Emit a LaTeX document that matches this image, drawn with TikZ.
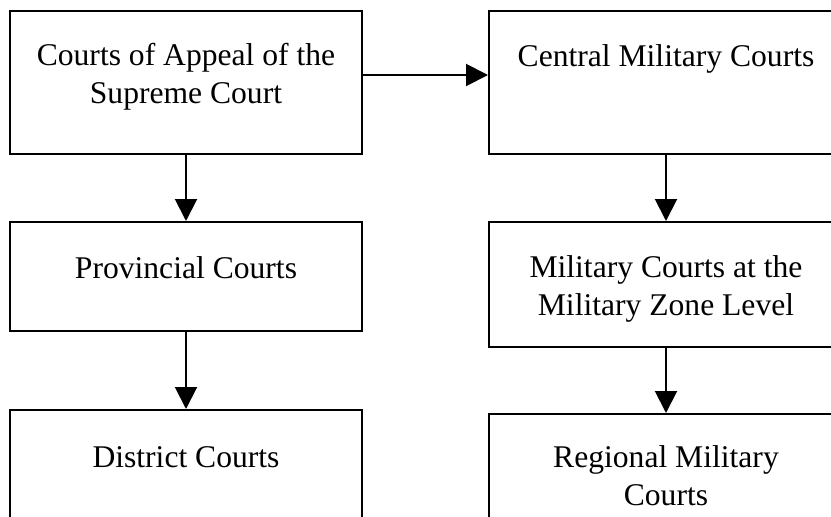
\documentclass[tikz,border=0pt]{standalone}
\usepackage{fontspec}
\setmainfont{Liberation Serif}
\usetikzlibrary{arrows.meta}
\begin{document}
\begin{tikzpicture}[x=1pt,y=-1pt,
  box/.style={draw=black,line width=2pt,rectangle,inner sep=0pt},
  lbl/.style={inner sep=0pt,anchor=base,align=center,
    font=\fontsize{31.6}{37.5}\selectfont},
  arr/.style={line width=2pt,-{Triangle[width=22pt,length=22pt]}}]
  \useasboundingbox (0,0) rectangle (831,517);
  \clip (0,0) rectangle (831,517);
  % ordinary court branch
  \node[box,minimum width=352pt,minimum height=143pt] (appeal) at (186,82.5) {};
  \node[box,minimum width=352pt,minimum height=109pt] (prov) at (186,276.5) {};
  \node[box,minimum width=352pt,minimum height=150pt] (dist) at (186,485) {};
  % military court branch
  \node[box,minimum width=354pt,minimum height=143pt] (central) at (666,82.5) {};
  \node[box,minimum width=354pt,minimum height=125pt] (zone) at (666,284.5) {};
  \node[box,minimum width=354pt,minimum height=146pt] (region) at (666,487) {};
  % labels (base anchor sits on the last line of each label)
  \node[lbl] (tappeal) at (186,103) {Courts of Appeal of the\\Supreme Court};
  \node[lbl] (tprov) at (186,278) {Provincial Courts};
  \node[lbl] (tdist) at (186,467) {District Courts};
  \node[lbl] (tcentral) at (666,66.5) {Central Military Courts};
  \node[lbl] (tzone) at (666,315) {Military Courts at the\\Military Zone Level};
  \node[lbl] (tregion) at (666,505) {Regional Military\\Courts};
  % connectors
  \draw[arr] ([yshift=7.5pt]appeal.east) -- ([yshift=7.5pt]central.west);
  \draw[arr] (appeal.south) -- (prov.north);
  \draw[arr] (prov.south) -- (dist.north);
  \draw[arr] (central.south) -- (zone.north);
  \draw[arr] (zone.south) -- (region.north);
\end{tikzpicture}
\end{document}
